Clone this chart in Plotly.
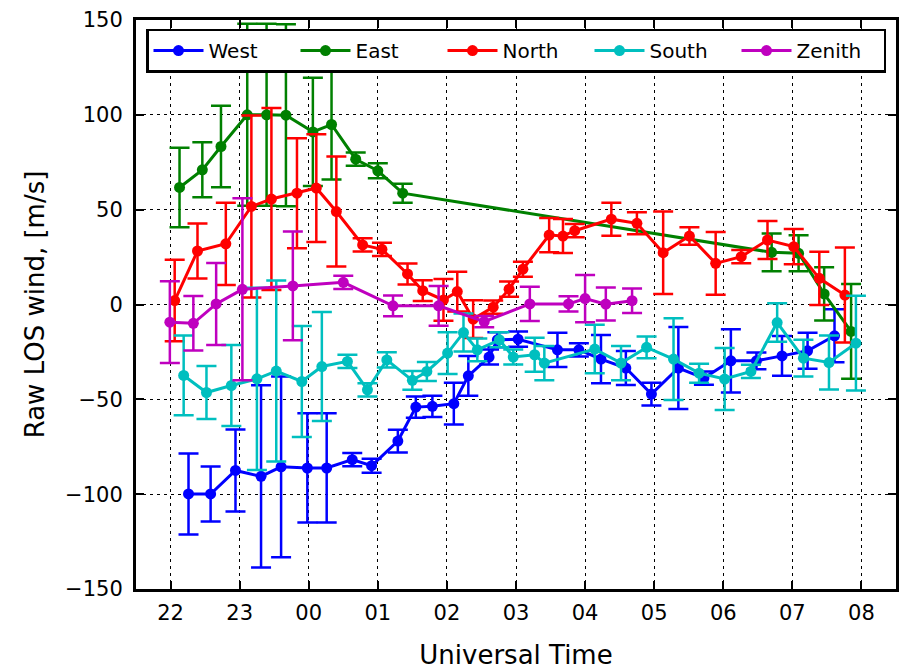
import plotly.graph_objects as go

# Universal Time in decimal hours (values past 24 belong to the following day)
west_t = [22.26, 22.58, 22.94, 23.31, 23.60, 23.98, 24.26, 24.63, 24.91, 25.29,
          25.55, 25.79, 26.10, 26.31, 26.61, 26.73, 27.03, 27.60, 27.91, 28.23,
          28.59, 28.96, 29.35, 29.72, 30.11, 30.48, 30.85, 31.22, 31.61]
west_v = [-99.9, -99.9, -87.5, -90.6, -85.6, -86.2, -86.2, -81.8, -85.0, -72.0,
          -54.1, -53.7, -52.3, -37.6, -27.7, -18.6, -18.3, -23.9, -23.9, -28.8,
          -33.5, -47.2, -33.5, -38.8, -29.7, -29.7, -27.1, -24.4, -16.5]
west_e = [21.3, 14.5, 21.6, 48.0, 47.6, 28.8, 28.8, 3.5, 3.7, 6.0,
          5.6, 5.6, 11.0, 10.5, 4.0, 4.0, 4.0, 9.0, 3.5, 12.7,
          9.0, 6.0, 21.6, 3.5, 16.7, 4.4, 10.5, 9.5, 14.0]

east_t = [22.13, 22.46, 22.73, 23.11, 23.39, 23.67, 24.06, 24.33, 24.68, 25.00,
          25.36, 30.70, 31.09, 31.46, 31.85]
east_v = [61.7, 71.0, 83.3, 100.0, 100.0, 99.8, 91.0, 94.9, 76.6, 70.5,
          58.7, 27.5, 27.0, 5.6, -14.2]
east_e = [21.0, 14.5, 21.5, 48.0, 48.0, 48.0, 28.5, 29.0, 3.5, 4.0,
          5.0, 10.0, 9.5, 14.0, 25.0]

north_t = [22.06, 22.39, 22.80, 23.17, 23.46, 23.83, 24.11, 24.40, 24.78, 25.06,
           25.43, 25.65, 25.95, 26.15, 26.38, 26.67, 26.90, 27.10, 27.48, 27.68,
           27.85, 28.38, 28.75, 29.13, 29.51, 29.89, 30.26, 30.64, 31.02, 31.39,
           31.76]
north_v = [2.1, 28.2, 32.0, 51.7, 55.6, 58.7, 61.4, 49.0, 31.4, 29.1,
           16.1, 7.3, 2.4, 6.8, -7.7, -1.4, 8.1, 18.6, 36.6, 36.1,
           38.9, 45.0, 42.8, 27.3, 36.1, 21.7, 25.2, 34.0, 30.5, 13.8,
           5.0]
north_e = [21.5, 14.5, 21.7, 48.0, 48.0, 29.0, 28.4, 29.0, 3.5, 3.5,
           5.5, 5.5, 11.0, 10.5, 10.0, 3.5, 4.0, 4.0, 9.0, 9.0,
           3.5, 8.7, 5.8, 21.7, 4.6, 16.5, 3.5, 10.0, 9.3, 14.0,
           25.0]

south_t = [22.19, 22.52, 22.88, 23.25, 23.53, 23.90, 24.19, 24.56, 24.85, 25.13,
           25.50, 25.71, 26.01, 26.24, 26.44, 26.76, 26.96, 27.27, 27.41, 28.14,
           28.52, 28.89, 29.28, 29.65, 30.02, 30.40, 30.78, 31.16, 31.53, 31.92]
south_v = [-37.4, -46.4, -42.7, -39.2, -35.1, -40.6, -32.7, -30.0, -45.0, -29.2,
           -40.0, -35.3, -25.6, -14.8, -23.9, -18.6, -27.7, -26.5, -30.9, -23.5,
           -30.9, -22.6, -28.8, -36.2, -39.3, -35.3, -9.5, -28.3, -30.6, -20.4]
south_e = [21.0, 14.0, 21.4, 48.0, 47.7, 29.3, 28.7, 3.5, 3.5, 4.0,
           5.0, 5.0, 11.0, 10.0, 6.0, 4.0, 4.0, 9.0, 9.0, 12.8,
           9.0, 5.7, 21.6, 5.0, 16.3, 3.5, 10.2, 9.7, 14.2, 25.0]

zenith_t = [21.99, 22.33, 22.66, 23.04, 23.77, 24.50, 25.22, 25.88, 26.54, 27.20,
            27.76, 28.00, 28.30, 28.68]
zenith_v = [-9.3, -9.9, 0.3, 8.0, 9.8, 11.7, -0.7, -0.7, -9.0, 0.3,
            0.3, 3.1, 0.2, 2.0]
zenith_e = [21.5, 14.4, 21.6, 48.0, 28.7, 3.5, 5.5, 10.5, 3.0, 9.0,
            4.0, 12.5, 8.7, 6.5]

tick_hours = [22, 23, 24, 25, 26, 27, 28, 29, 30, 31, 32]
tick_labels = ["22", "23", "00", "01", "02", "03", "04", "05", "06", "07", "08"]

series = [
    ("West", west_t, west_v, west_e, "#0000ff"),
    ("East", east_t, east_v, east_e, "#008000"),
    ("North", north_t, north_v, north_e, "#ff0000"),
    ("South", south_t, south_v, south_e, "#00bfbf"),
    ("Zenith", zenith_t, zenith_v, zenith_e, "#bf00bf"),
]

FONT = "DejaVu Sans"

fig = go.Figure()
for name, t, v, e, color in series:
    fig.add_trace(go.Scatter(
        x=t, y=v, name=name, mode="lines+markers",
        line=dict(color=color, width=3),
        marker=dict(color=color, size=11),
        error_y=dict(type="data", array=e, visible=True,
                     color=color, thickness=2.5, width=10),
    ))

axis_common = dict(
    showline=True, linecolor="black", linewidth=3, mirror="allticks",
    ticks="inside", ticklen=8, tickwidth=1.5, tickcolor="black",
    showgrid=True, gridcolor="black", gridwidth=1, griddash="3px,4px",
    zeroline=False, tickfont=dict(family=FONT, size=21, color="black"),
)

fig.update_layout(
    width=901, height=670,
    margin=dict(l=136, r=2, t=20, b=81),
    paper_bgcolor="white", plot_bgcolor="white",
    font=dict(family=FONT, color="black"),
    xaxis=dict(range=[21.5, 32.5], tickvals=tick_hours, ticktext=tick_labels,
               ticklabelstandoff=3,
               title=dict(text="Universal Time", font=dict(family=FONT, size=26),
                          standoff=24),
               **axis_common),
    yaxis=dict(range=[-150, 150], tickvals=[-150, -100, -50, 0, 50, 100, 150],
               ticklabelstandoff=6,
               title=dict(text="Raw LOS wind, [m/s]", font=dict(family=FONT, size=26),
                          standoff=14),
               **axis_common),
    legend=dict(orientation="h", x=0.5, xanchor="center", y=0.985, yanchor="top",
                bgcolor="white", bordercolor="black", borderwidth=2.5,
                font=dict(family=FONT, size=20), itemwidth=50,
                entrywidth=82, entrywidthmode="pixels"),
    showlegend=True,
)

fig.write_html("out.html")
